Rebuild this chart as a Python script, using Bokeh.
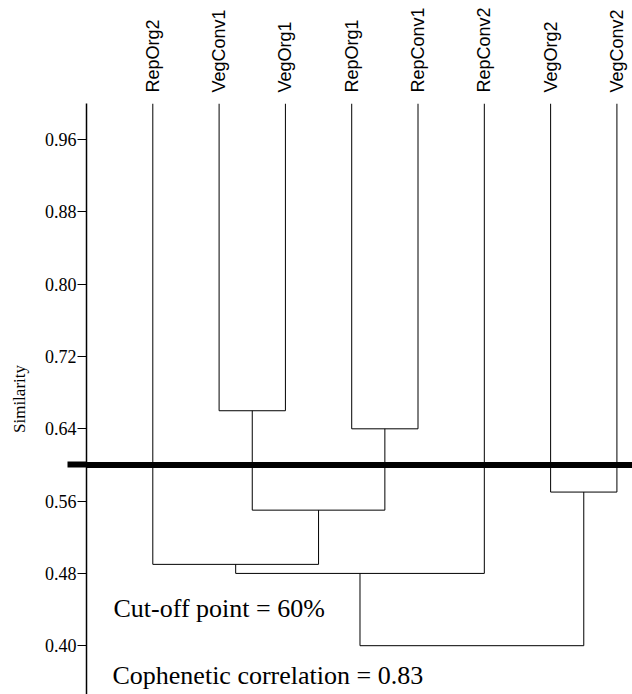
from bokeh.plotting import figure
from bokeh.models import Range1d, FixedTicker, PrintfTickFormatter, Label
from bokeh.embed import file_html
from bokeh.resources import INLINE

# Leaves of the dendrogram, left to right
leaf_labels = ["RepOrg2", "VegConv1", "VegOrg1", "RepOrg1",
               "RepConv1", "RepConv2", "VegOrg2", "VegConv2"]

# Linkage: nodes 0-7 are the leaves, merge k creates node 8 + k
merge_left = [1, 3, 6, 8, 0, 12, 13]
merge_right = [2, 4, 7, 9, 11, 5, 10]
merge_similarity = [0.66, 0.64, 0.57, 0.55, 0.49, 0.48, 0.40]

leaf_similarity = 1.0
cutoff_similarity = 0.60
cophenetic_r = 0.83

y_ticks = [0.40, 0.48, 0.56, 0.64, 0.72, 0.80, 0.88, 0.96]

# node positions: leaves at 1..n, merges at the mean of their children
node_x = [i + 1.0 for i in range(len(leaf_labels))]
node_y = [leaf_similarity] * len(leaf_labels)
x0, y0, x1, y1 = [], [], [], []
for a, b, h in zip(merge_left, merge_right, merge_similarity):
    for c in (a, b):
        x0.append(node_x[c]); y0.append(node_y[c])
        x1.append(node_x[c]); y1.append(h)
    x0.append(node_x[a]); y0.append(h)
    x1.append(node_x[b]); y1.append(h)
    node_x.append((node_x[a] + node_x[b]) / 2.0)
    node_y.append(h)

p = figure(width=632, height=694, output_backend="svg", toolbar_location=None,
           x_axis_location="above",
           x_range=Range1d(0, 8.235), y_range=Range1d(0.346, 1.0),
           min_border_left=86, min_border_right=0, min_border_top=103,
           min_border_bottom=0)
p.outline_line_color = None
p.grid.visible = False
p.background_fill_color = "white"
p.border_fill_color = "white"

p.segment(x0=x0, y0=y0, x1=x1, y1=y1, line_color="black", line_width=1)

# cut-off line across the tree
p.segment(x0=[0], y0=[cutoff_similarity], x1=[9.0], y1=[cutoff_similarity],
          line_color="black", line_width=6)

# leaf names along the top
xa = p.xaxis[0]
xa.ticker = FixedTicker(ticks=list(range(1, len(leaf_labels) + 1)))
xa.major_label_overrides = {i + 1: name for i, name in enumerate(leaf_labels)}
xa.major_label_orientation = "vertical"
xa.major_label_text_font = "Liberation Sans"
xa.major_label_text_font_size = "18px"
xa.major_label_text_color = "black"
xa.major_label_standoff = 11
xa.axis_line_color = None
xa.major_tick_line_color = None
xa.minor_tick_line_color = None
xa.major_tick_out = 0
xa.major_tick_in = 0

ya = p.yaxis[0]
# the cut-off level is a long, heavy minor tick so the line reaches past the axis
ya.ticker = FixedTicker(ticks=y_ticks, minor_ticks=[cutoff_similarity])
ya.formatter = PrintfTickFormatter(format="%.2f")
ya.major_label_text_font = "Liberation Serif"
ya.major_label_text_font_size = "18px"
ya.major_label_text_color = "black"
ya.major_label_standoff = -9
ya.major_tick_out = 9
ya.major_tick_in = 0
ya.minor_tick_out = 19
ya.minor_tick_in = 0
ya.minor_tick_line_width = 6
ya.minor_tick_line_color = "black"
ya.axis_line_width = 1.5
ya.axis_line_color = "black"
ya.major_tick_line_color = "black"
ya.axis_label = "Similarity"
ya.axis_label_text_font = "Liberation Serif"
ya.axis_label_text_font_size = "17px"
ya.axis_label_text_font_style = "normal"
ya.axis_label_text_color = "black"
ya.axis_label_standoff = 13

p.add_layout(Label(x=0.407, y=0.4415, text="Cut-off point = %d%%" % round(cutoff_similarity * 100),
                   text_font="Liberation Serif", text_font_size="26px",
                   text_color="black", text_baseline="alphabetic"))
p.add_layout(Label(x=0.392, y=0.3674, text="Cophenetic correlation = %.2f" % cophenetic_r,
                   text_font="Liberation Serif", text_font_size="26px",
                   text_color="black", text_baseline="alphabetic"))

open("out.html", "w").write(file_html(p, INLINE))
